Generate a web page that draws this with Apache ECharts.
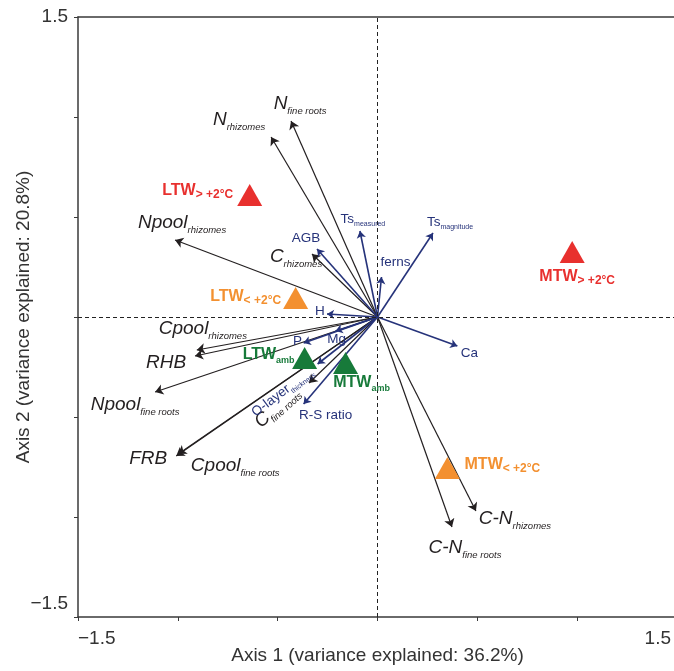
<!DOCTYPE html>
<html><head><meta charset="utf-8">
<script src="https://cdn.jsdelivr.net/npm/echarts@6/dist/echarts.min.js"></script>
<style>html,body{margin:0;padding:0;background:#fff}#c{width:674px;height:671px}</style>
</head><body><div id="c"></div>
<script>
// ---------- DATA ----------
const xTickValues = [-1.5, 1.5];
const xTickText = ['\u22121.5', '1.5'];
const yTickValues = [-1.5, 1.5];
const yTickText = ['\u22121.5', '1.5'];
const xAxisTitle = 'Axis 1 (variance explained: 36.2%)';
const yAxisTitle = 'Axis 2 (variance explained: 20.8%)';

// response variables (black arrows)
const respMain = ['N', 'N', 'Npool', 'C', 'Cpool', 'RHB', 'Npool', 'FRB', 'Cpool', 'C', 'C-N', 'C-N'];
const respSub  = ['rhizomes', 'fine roots', 'rhizomes', 'rhizomes', 'rhizomes', '', 'fine roots', '', 'fine roots', 'fine roots', 'rhizomes', 'fine roots'];
const respX = [-0.533, -0.433, -1.014, -0.328, -0.905, -0.914, -1.114, -1.008, -0.998, -0.343, 0.493, 0.373];
const respY = [0.900, 0.980, 0.385, 0.315, -0.165, -0.195, -0.375, -0.695, -0.685, -0.330, -0.970, -1.050];

// explanatory variables (blue arrows)
const explMain = ['Ts', 'Ts', 'AGB', 'ferns', 'H', 'Ca', 'P', 'Mg', 'O-layer', 'R-S ratio'];
const explSub  = ['measured', 'magnitude', '', '', '', '', '', '', 'thickness', ''];
const explX = [-0.088, 0.278, -0.303, 0.020, -0.253, 0.400, -0.370, -0.210, -0.300, -0.370];
const explY = [0.430, 0.420, 0.340, 0.200, 0.015, -0.145, -0.130, -0.070, -0.235, -0.435];

// sites (triangles)
const siteMain = ['LTW', 'MTW', 'LTW', 'MTW', 'LTW', 'MTW'];
const siteSub  = ['> +2\u00b0C', '> +2\u00b0C', '< +2\u00b0C', '< +2\u00b0C', 'amb', 'amb'];
const siteGroup = ['hot', 'hot', 'warm', 'warm', 'amb', 'amb'];
const siteX = [-0.640, 0.975, -0.410, 0.350, -0.365, -0.160];
const siteY = [0.610, 0.325, 0.095, -0.755, -0.205, -0.230];

// ---------- STYLE / LAYOUT ----------
const FF = '"Liberation Sans", Arial, Helvetica, sans-serif';
const BLACK = '#231f20';
const BLUE = '#26337a';
const groupColor = { hot: '#e8302e', warm: '#f39030', amb: '#177a3a' };
// screen-space label offsets (px) from arrow tip to label centre
const respOffset = [[-32,-17],[9,-17],[7,-17],[-16,3],[6,-21],[-29,7],[-20,13],[-28,3],[57,12],[-32,24],[39,8],[13,21]];
const respRotate = [0,0,0,0,0,0,0,0,0,42,0,0];
const explOffset = [[3,-12],[17,-11],[-11,-11],[14,-15],[-7,-3],[12,7],[-6,-2],[1,8],[-35,28],[22,11]];
const explRotate = [0,0,0,0,0,0,0,0,37,0];
const siteOffset = [[-52,-4],[5,25],[-50,-1],[55,-3],[-36,-3],[16,20]];
const siteSubSize = { hot: 12, warm: 12, amb: 9 };

const rich = {
  rm: { fontSize: 19, fontStyle: 'italic', color: BLACK, fontFamily: FF, lineHeight: 24 },
  rs: { fontSize: 9.5, fontStyle: 'italic', color: BLACK, fontFamily: FF, lineHeight: 11, verticalAlign: 'bottom' },
  bm: { fontSize: 13.5, color: BLUE, fontFamily: FF, lineHeight: 18 },
  bs: { fontSize: 7, color: BLUE, fontFamily: FF, lineHeight: 8, verticalAlign: 'bottom' }
};

// label offset is applied in the rotated frame; convert screen offset
function frameOffset(off, deg) {
  const t = deg * Math.PI / 180, c = Math.cos(t), s = Math.sin(t);
  return [off[0] * c - off[1] * s, off[0] * s + off[1] * c];
}
function arrowData(xs, ys) {
  return xs.map((x, i) => ({ coords: [[0, 0], [x, ys[i]]] }));
}
function labelPoints(xs, ys, mains, subs, offs, rots, mTok, sTok) {
  return xs.map((x, i) => ({
    value: [x, ys[i]],
    label: {
      show: true, position: 'inside', align: 'center', verticalAlign: 'middle',
      offset: frameOffset(offs[i], rots[i]), rotate: rots[i],
      formatter: '{' + mTok + '|' + mains[i] + '}' + (subs[i] ? '{' + sTok + '|' + subs[i] + '}' : ''),
      rich: rich
    }
  }));
}

const siteData = siteX.map((x, i) => {
  const c = groupColor[siteGroup[i]];
  return {
    value: [x, siteY[i]],
    itemStyle: { color: c, opacity: 1 },
    label: {
      show: true, position: 'inside', align: 'center', verticalAlign: 'middle',
      offset: siteOffset[i],
      formatter: '{m|' + siteMain[i] + '}{s|' + siteSub[i] + '}',
      rich: {
        m: { fontSize: 16, fontWeight: 'bold', color: c, fontFamily: FF, lineHeight: 20 },
        s: { fontSize: siteSubSize[siteGroup[i]], fontWeight: 'bold', color: c, fontFamily: FF, lineHeight: 12, verticalAlign: 'bottom' }
      }
    }
  };
});

function tickFmt(vals, texts) {
  return function (v) {
    const i = vals.findIndex(t => Math.abs(t - v) < 1e-9);
    return i < 0 ? '' : texts[i];
  };
}

const chart = echarts.init(document.getElementById('c'), null, { renderer: 'canvas' });
chart.setOption({
  animation: false,
  backgroundColor: '#fff',
  grid: { left: 78, top: 17, right: -3, bottom: 54, containLabel: false, outerBoundsMode: 'none' },
  xAxis: [{
    type: 'value', min: -1.5, max: 1.5, interval: 0.5,
    name: xAxisTitle, nameLocation: 'middle', nameGap: 29, nameMoveOverlap: false,
    nameTextStyle: { fontSize: 19, color: '#333', fontFamily: FF },
    axisLine: { onZero: false, lineStyle: { color: '#3a3a3a', width: 1.5 } },
    axisTick: { show: true, length: 4, lineStyle: { color: '#3a3a3a' } },
    splitLine: { show: false },
    axisLabel: {
      interval: 0, margin: 12, fontSize: 19, color: '#333', fontFamily: FF,
      showMinLabel: true, showMaxLabel: true,
      alignMinLabel: 'left', alignMaxLabel: 'right',
      formatter: function (v) {
        const t = tickFmt(xTickValues, xTickText)(v);
        if (!t) return '';
        return v > 0 ? '{r|' + t + '}' : t;
      },
      rich: { r: { fontSize: 19, color: '#333', fontFamily: FF, padding: [0, 6, 0, 0] } }
    }
  }, {
    type: 'value', min: -1.5, max: 1.5, position: 'top',
    axisLine: { onZero: false, lineStyle: { color: '#3a3a3a', width: 1.5 } },
    axisTick: { show: false }, axisLabel: { show: false }, splitLine: { show: false }
  }],
  yAxis: {
    type: 'value', min: -1.5, max: 1.5, interval: 0.5,
    name: yAxisTitle, nameLocation: 'middle', nameGap: 45, nameMoveOverlap: false,
    nameTextStyle: { fontSize: 19, color: '#333', fontFamily: FF },
    axisLine: { onZero: false, lineStyle: { color: '#3a3a3a', width: 1.5 } },
    axisTick: { show: true, length: 4, lineStyle: { color: '#3a3a3a' } },
    splitLine: { show: false },
    axisLabel: {
      interval: 0, margin: 10, fontSize: 19, color: '#333', fontFamily: FF,
      showMinLabel: true, showMaxLabel: true,
      verticalAlignMinLabel: 'bottom', verticalAlignMaxLabel: 'middle',
      formatter: function (v) {
        const t = tickFmt(yTickValues, yTickText)(v);
        if (!t) return '';
        return v < 0 ? '{b|' + t + '}' : t;
      },
      rich: { b: { fontSize: 19, color: '#333', fontFamily: FF, padding: [0, 0, 4, 0] } }
    }
  },
  series: [
    {
      type: 'lines', coordinateSystem: 'cartesian2d', silent: true, z: 3,
      symbol: ['none', 'arrow'], symbolSize: 8,
      lineStyle: { color: BLACK, width: 1.2, opacity: 1 },
      data: arrowData(respX, respY),
      markLine: {
        silent: true, symbol: 'none', label: { show: false },
        lineStyle: { color: '#222', width: 1, type: [4, 3] },
        data: [{ xAxis: 0 }, { yAxis: 0 }]
      }
    },
    {
      type: 'lines', coordinateSystem: 'cartesian2d', silent: true, z: 4,
      symbol: ['none', 'arrow'], symbolSize: 7,
      lineStyle: { color: BLUE, width: 1.6, opacity: 1 },
      data: arrowData(explX, explY)
    },
    {
      type: 'scatter', symbolSize: 0, silent: true, z: 5,
      itemStyle: { opacity: 1 },
      data: labelPoints(respX, respY, respMain, respSub, respOffset, respRotate, 'rm', 'rs')
    },
    {
      type: 'scatter', symbolSize: 0, silent: true, z: 5,
      itemStyle: { opacity: 1 },
      data: labelPoints(explX, explY, explMain, explSub, explOffset, explRotate, 'bm', 'bs')
    },
    {
      type: 'scatter', symbol: 'triangle', symbolSize: [25, 22], silent: true, z: 6,
      itemStyle: { opacity: 1 },
      data: siteData
    }
  ]
});
</script></body></html>
